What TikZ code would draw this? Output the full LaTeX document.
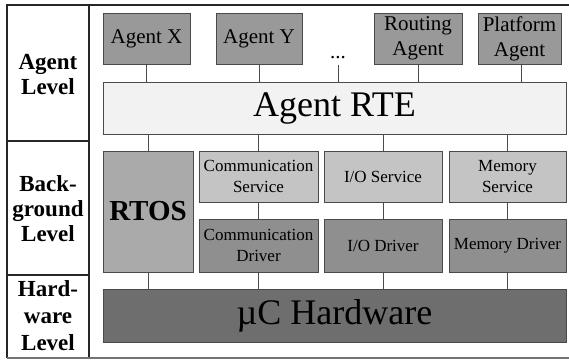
\documentclass[tikz,border=0pt]{standalone}
\usepackage{fontspec}
\setmainfont{LiberationSerif}[Extension=.ttf, UprightFont=*-Regular, BoldFont=*-Bold, ItalicFont=*-Italic, BoldItalicFont=*-BoldItalic]
\definecolor{agentfill}{HTML}{999999}
\definecolor{rtefill}{HTML}{F2F2F2}
\definecolor{rtosfill}{HTML}{AAAAAA}
\definecolor{servfill}{HTML}{C4C4C4}
\definecolor{drvfill}{HTML}{8F8F8F}
\definecolor{hwfill}{HTML}{6E6E6E}
\definecolor{edge}{HTML}{4A4A4A}
\tikzset{
  box/.style={draw=edge, line width=0.9pt, inner sep=0pt, align=center, text=black},
  agentbox/.style={box, fill=agentfill, minimum height=51pt, font=\fontsize{21}{25}\selectfont},
  servbox/.style={box, fill=servfill, minimum height=51pt, font=\fontsize{17}{21}\selectfont},
  drvbox/.style={box, fill=drvfill, minimum height=53pt, font=\fontsize{17}{21}\selectfont},
  link/.style={draw=edge, line width=0.8pt},
  lvl/.style={align=center, inner sep=0pt, font=\fontsize{23}{25}\selectfont\bfseries},
  frame/.style={line width=1.3pt, draw=black!85}
}
\begin{document}
\begin{tikzpicture}[x=1pt,y=-1pt]
\useasboundingbox (0,0) rectangle (569,360);
% frame
\draw[frame] (7,358) -- (7,5) -- (569,5);
\draw[frame] (89,5) -- (89,358);
\draw[frame] (7,141) -- (89,141);
\draw[frame] (7,275) -- (89,275);
\draw[line width=1.3pt, draw=black!55] (7,358) -- (569,358);
% level labels
\node[lvl] (l1) at (48,75) {Agent\\Level};
\node[lvl] (l2) at (48,209) {Back-\\ground\\Level};
\node[lvl, font=\fontsize{23}{27}\selectfont\bfseries] (l3) at (48,316) {Hard-\\ware\\Level};
% agents
\node[agentbox, minimum width=87pt] (ax) at (146.5,38.5) {Agent X};
\node[agentbox, minimum width=86pt] (ay) at (259,38.5) {Agent Y};
\node[inner sep=0pt, font=\fontsize{21}{25}\selectfont] (dots) at (338,58) {...};
\coordinate (dotsb) at (338,65);
\node[agentbox, minimum width=88pt] (ra) at (418,38.5) {Routing\\Agent};
\node[agentbox, minimum width=83pt] (pa) at (519.5,38.5) {Platform\\Agent};
% RTE
\node[box, fill=rtefill, minimum width=463pt, minimum height=52pt, font=\fontsize{36}{40}\selectfont] (rte) at (334.5,108) {Agent RTE};
% background
\node[box, fill=rtosfill, minimum width=90pt, minimum height=121pt, font=\fontsize{29}{32}\selectfont\bfseries] (rtos) at (148,211.5) {RTOS};
\node[servbox, minimum width=119pt] (cs) at (258.5,176.5) {Communication\\Service};
\node[servbox, minimum width=118pt] (ios) at (383,176.5) {I/O Service};
\node[servbox, minimum width=117pt] (ms) at (507.5,176.5) {Memory\\Service};
\node[drvbox, minimum width=119pt] (cd) at (258.5,245.5) {Communication\\Driver};
\node[drvbox, minimum width=118pt] (iod) at (383,245.5) {I/O Driver};
\node[drvbox, minimum width=117pt] (md) at (507.5,245.5) {Memory Driver};
% hardware
\node[box, fill=hwfill, minimum width=463pt, minimum height=53pt, font=\fontsize{36}{40}\selectfont] (hw) at (334.5,315.5) {µC Hardware};
% links agents -> RTE
\draw[link] (ax.south) -- (ax.south |- rte.north);
\draw[link] (ay.south) -- (ay.south |- rte.north);
\draw[link] (dotsb) -- (dotsb |- rte.north);
\draw[link] (ra.south) -- (ra.south |- rte.north);
\draw[link] ([xshift=1.5pt]pa.south) -- ([xshift=1.5pt]pa.south |- rte.north);
% RTE -> background
\draw[link] (rtos.north) -- (rtos.north |- rte.south);
\draw[link] (cs.north) -- (cs.north |- rte.south);
\draw[link] (ios.north) -- (ios.north |- rte.south);
\draw[link] (ms.north) -- (ms.north |- rte.south);
% services -> drivers
\draw[link] (cs.south) -- (cd.north);
\draw[link] (ios.south) -- (iod.north);
\draw[link] (ms.south) -- (md.north);
% -> hardware
\draw[link] (rtos.south) -- (rtos.south |- hw.north);
\draw[link] (cd.south) -- (cd.south |- hw.north);
\draw[link] (iod.south) -- (iod.south |- hw.north);
\draw[link] (md.south) -- (md.south |- hw.north);
\end{tikzpicture}
\end{document}
